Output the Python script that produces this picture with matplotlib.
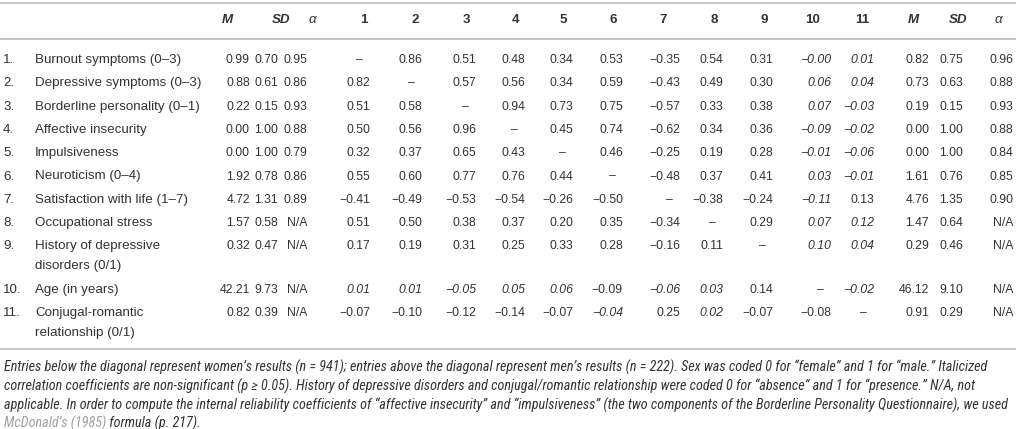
import matplotlib
matplotlib.use("Agg")
import matplotlib.pyplot as plt
from matplotlib import font_manager

# ---- table data ----
variables = [
    "Burnout symptoms (0\u20133)",
    "Depressive symptoms (0\u20133)",
    "Borderline personality (0\u20131)",
    "Affective insecurity",
    "Impulsiveness",
    "Neuroticism (0\u20134)",
    "Satisfaction with life (1\u20137)",
    "Occupational stress",
    "History of depressive\ndisorders (0/1)",
    "Age (in years)",
    "Conjugal-romantic\nrelationship (0/1)",
]

# women (left block)
women_m = [0.99, 0.88, 0.22, 0.00, 0.00, 1.92, 4.72, 1.57, 0.32, 42.21, 0.82]
women_sd = [0.70, 0.61, 0.15, 1.00, 1.00, 0.78, 1.31, 0.58, 0.47, 9.73, 0.39]
women_alpha = [0.95, 0.86, 0.93, 0.88, 0.79, 0.86, 0.89, None, None, None, None]

# men (right block)
men_m = [0.82, 0.73, 0.19, 0.00, 0.00, 1.61, 4.76, 1.47, 0.29, 46.12, 0.91]
men_sd = [0.75, 0.63, 0.15, 1.00, 1.00, 0.76, 1.35, 0.64, 0.46, 9.10, 0.29]
men_alpha = [0.96, 0.88, 0.93, 0.88, 0.84, 0.85, 0.90, None, None, None, None]

# correlations: below diagonal women, above diagonal men
corr = [
    [None, 0.86, 0.51, 0.48, 0.34, 0.53, -0.35, 0.54, 0.31, -0.0, 0.01],
    [0.82, None, 0.57, 0.56, 0.34, 0.59, -0.43, 0.49, 0.30, 0.06, 0.04],
    [0.51, 0.58, None, 0.94, 0.73, 0.75, -0.57, 0.33, 0.38, 0.07, -0.03],
    [0.50, 0.56, 0.96, None, 0.45, 0.74, -0.62, 0.34, 0.36, -0.09, -0.02],
    [0.32, 0.37, 0.65, 0.43, None, 0.46, -0.25, 0.19, 0.28, -0.01, -0.06],
    [0.55, 0.60, 0.77, 0.76, 0.44, None, -0.48, 0.37, 0.41, 0.03, -0.01],
    [-0.41, -0.49, -0.53, -0.54, -0.26, -0.50, None, -0.38, -0.24, -0.11, 0.13],
    [0.51, 0.50, 0.38, 0.37, 0.20, 0.35, -0.34, None, 0.29, 0.07, 0.12],
    [0.17, 0.19, 0.31, 0.25, 0.33, 0.28, -0.16, 0.11, None, 0.10, 0.04],
    [0.01, 0.01, -0.05, 0.05, 0.06, -0.09, -0.06, 0.03, 0.14, None, -0.02],
    [-0.07, -0.10, -0.12, -0.14, -0.07, -0.04, 0.25, 0.02, -0.07, -0.08, None],
]

# non-significant coefficients (row, col), 0-based -> italic
nonsig = [(r, 9) for r in range(9)] + [(r, 10) for r in range(6)] + \
         [(7, 10), (8, 10), (9, 0), (9, 1), (9, 2), (9, 3), (9, 4), (9, 6),
          (9, 7), (9, 10), (10, 5), (10, 7)]

headers = ["M", "SD", "\u03b1"] + [str(i) for i in range(1, 12)] + ["M", "SD", "\u03b1"]

footnote = [
    "Entries below the diagonal represent women\u2019s results (n = 941); entries above the diagonal represent men\u2019s results (n = 222). "
    "Sex was coded 0 for \u201cfemale\u201d and 1 for \u201cmale.\u201d Italicized",
    "correlation coefficients are non-significant (p \u2265 0.05). History of depressive disorders and conjugal/romantic relationship were "
    "coded 0 for \u201cabsence\u201d and 1 for \u201cpresence.\u201d N/A, not",
    "applicable. In order to compute the internal reliability coefficients of \u201caffective insecurity\u201d and \u201cimpulsiveness\u201d "
    "(the two components of the Borderline Personality Questionnaire), we used",
]
foot_cite = "McDonald\u2019s (1985)"
foot_tail = " formula (p. 217)."

# ---- layout ----
TXT = "#333333"
LINE = "#c4c4c4"
FS = 9.6      # labels / headers
FSN = 8.8     # numbers
plt.rcParams["font.family"] = ["Liberation Sans", "DejaVu Sans"]

num_right = [250, 278, 307, 370, 422, 476, 525, 573, 623, 680, 723, 773,
             831, 874, 929, 963, 1013]
head_x = [227, 281, 312, 364, 415, 466, 515, 563, 613, 663, 714, 764,
          813, 862, 913, 958, 998]
row_y = [60, 83.3, 106.6, 129.9, 153.2, 176.5, 199.8, 223.1, 246.4, 290, 313]

fig = plt.figure(figsize=(10.16, 4.29), dpi=100)
ax = fig.add_axes([0, 0, 1, 1])
ax.set_xlim(0, 1016)
ax.set_ylim(429, 0)
ax.axis("off")

for y in (3, 39, 349):
    ax.plot([0, 1016], [y, y], color=LINE, lw=1.4, solid_capstyle="butt")

for i, h in enumerate(headers):
    st = "italic" if h in ("M", "SD", "\u03b1") else "normal"
    wt = "normal" if h == "\u03b1" else "bold"
    ax.text(head_x[i], 20, h, ha="center", va="center", fontsize=FS,
            fontweight=wt, fontstyle=st, color=TXT)


def fmt(v):
    if v is None:
        return "N/A"
    return f"{v:.2f}".replace("-", "\u2212")


for r in range(11):
    y = row_y[r]
    ax.text(3, y, f"{r + 1}.", ha="left", va="center", fontsize=FS, color=TXT)
    for k, ln in enumerate(variables[r].split("\n")):
        ax.text(35, y + 20 * k, ln, ha="left", va="center", fontsize=FS, color=TXT)

    left = [women_m[r], women_sd[r], women_alpha[r]]
    right = [men_m[r], men_sd[r], men_alpha[r]]
    for c, v in enumerate(left):
        ax.text(num_right[c], y, fmt(v), ha="right", va="center", fontsize=FSN, color=TXT)
    for c, v in enumerate(right):
        ax.text(num_right[14 + c], y, fmt(v), ha="right", va="center", fontsize=FSN, color=TXT)
    for c in range(11):
        v = corr[r][c]
        x = num_right[3 + c]
        if v is None:
            ax.text(x - 11, y, "\u2013", ha="center", va="center", fontsize=FSN, color=TXT)
            continue
        st = "italic" if (r, c) in nonsig else "normal"
        ax.text(x, y, fmt(v), ha="right", va="center", fontsize=FSN,
                fontstyle=st, color=TXT)

# footnote in a narrow italic face, sized so the widest line fits the width
names = {f.name for f in font_manager.fontManager.ttflist}
narrow = ["Liberation Sans Narrow", "DejaVu Sans Condensed", "Roboto Condensed",
          "Open Sans Condensed"]
foot_font = next((n for n in narrow if n in names), "Liberation Sans")
foot_fam = [foot_font, "DejaVu Sans"]

fig.canvas.draw()
renderer = fig.canvas.get_renderer()
widths = []
for ln in footnote:
    probe = ax.text(4, 367, ln, ha="left", va="center", fontsize=9,
                    fontstyle="italic", family=foot_fam, color=TXT)
    widths.append(probe.get_window_extent(renderer).width)
    probe.remove()
FFS = 9 * 1006 / max(widths)

foot_y = [367, 386, 405]
for k, ln in enumerate(footnote):
    ax.text(4, foot_y[k], ln, ha="left", va="center", fontsize=FFS,
            fontstyle="italic", family=foot_fam, color=TXT)
t = ax.text(4, 423, foot_cite, ha="left", va="center", fontsize=FFS,
            fontstyle="italic", family=foot_fam, color="#a0a0a0")
fig.canvas.draw()
bb = t.get_window_extent()
x_end = ax.transData.inverted().transform((bb.x1, bb.y0))[0]
ax.text(x_end, 423, foot_tail, ha="left", va="center", fontsize=FFS,
        fontstyle="italic", family=foot_fam, color=TXT)

fig.savefig("out.png", dpi=100)
